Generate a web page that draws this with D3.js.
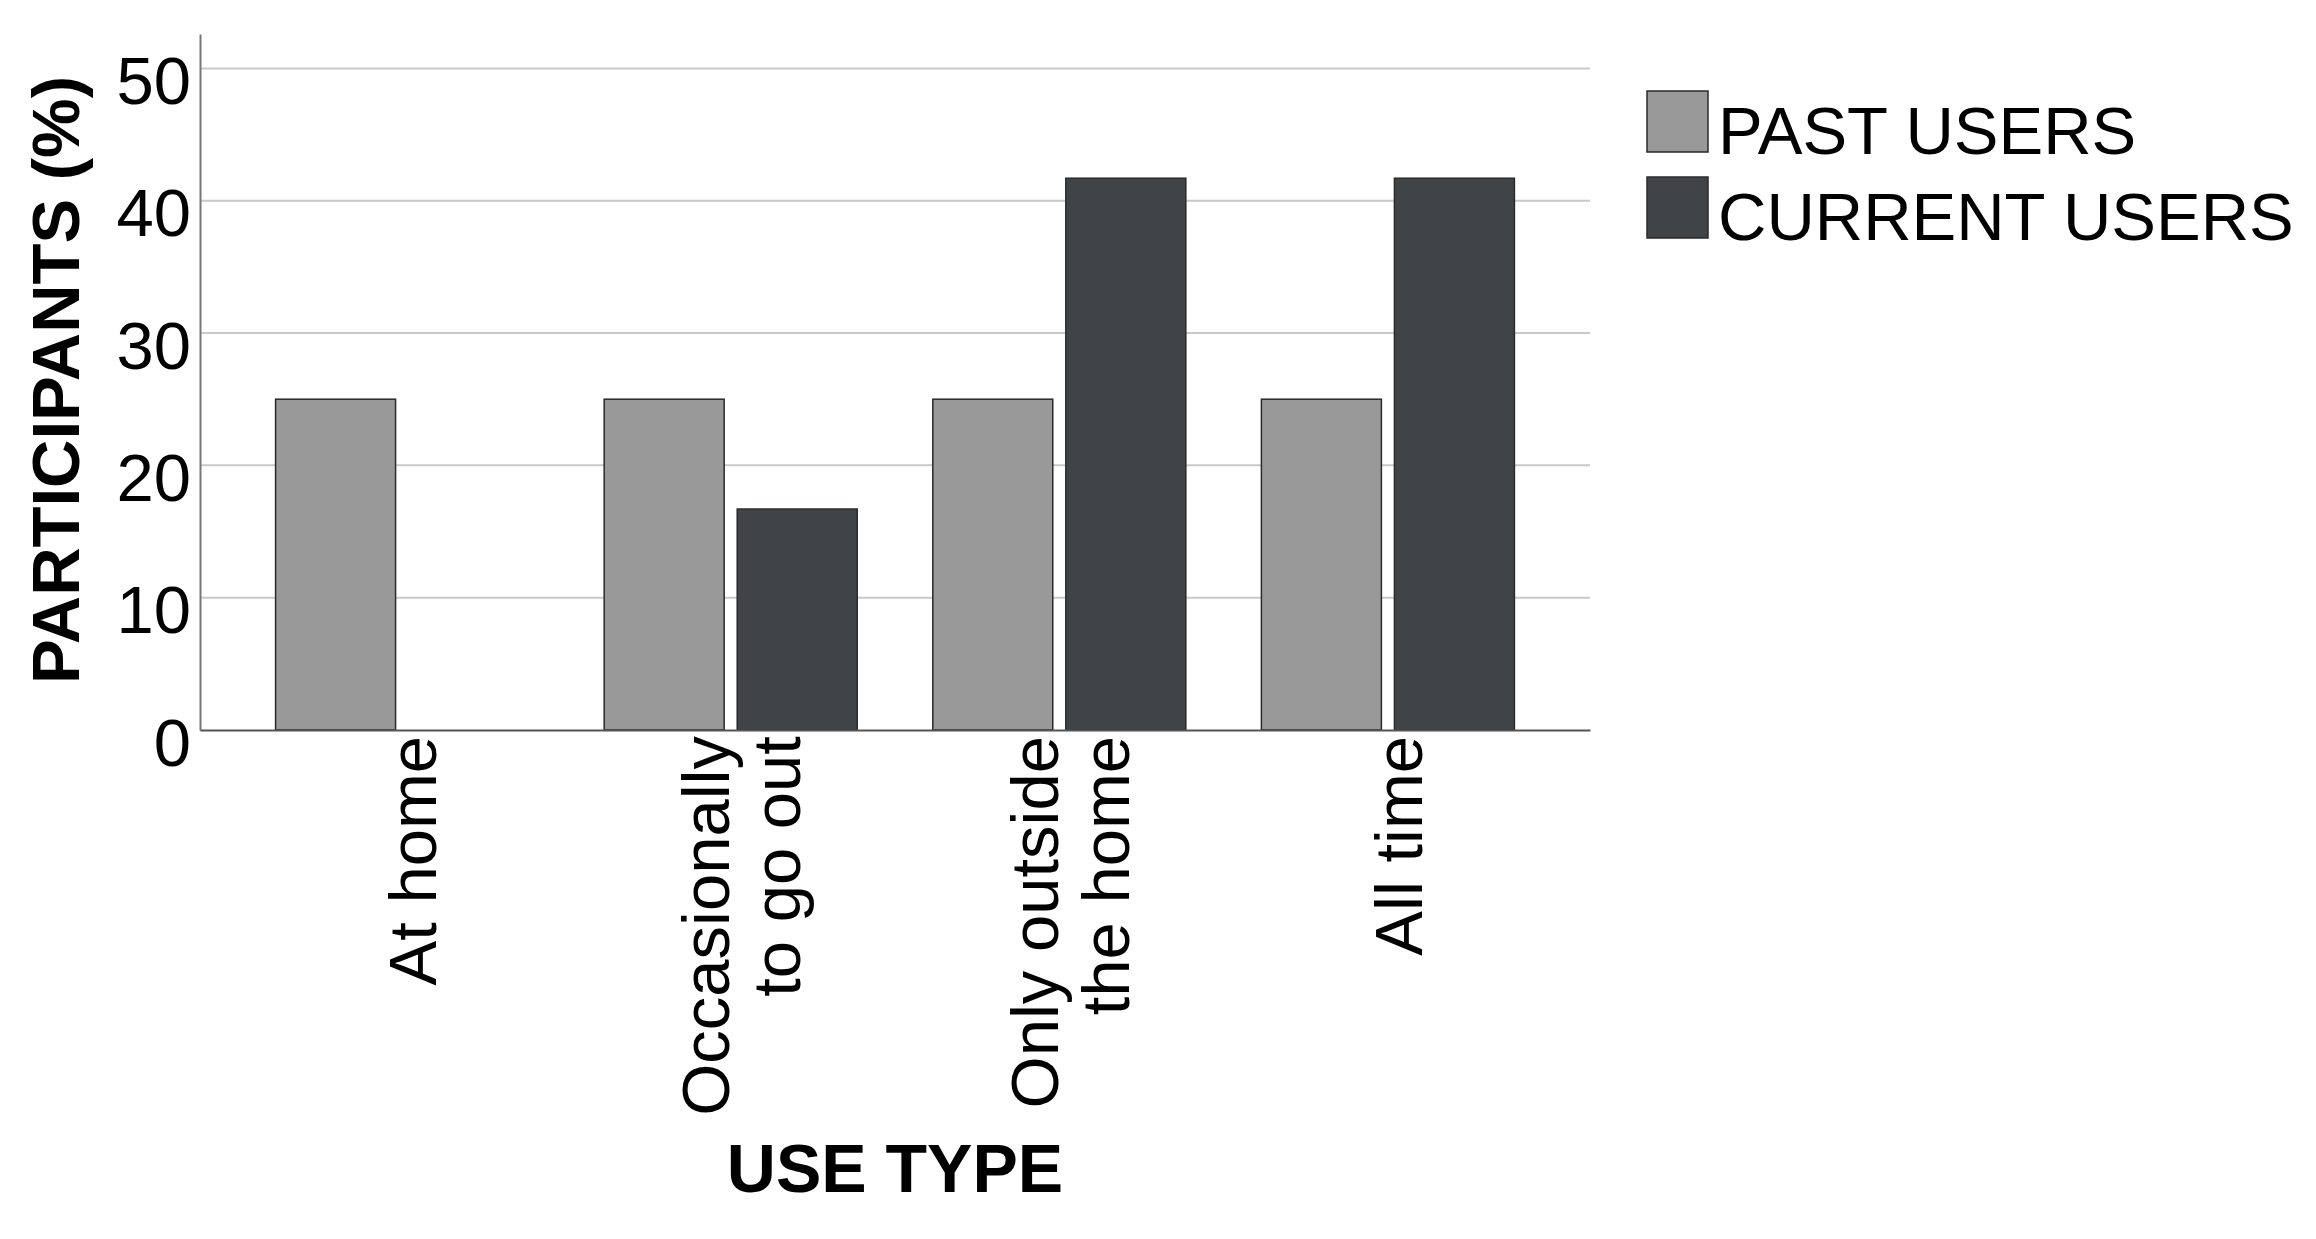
<!DOCTYPE html>
<html>
<head>
<meta charset="utf-8">
<script src="https://cdn.jsdelivr.net/npm/d3@7"></script>
<style>
  html, body { margin: 0; padding: 0; background: #fff; }
  svg { display: block; font-family: "Liberation Sans", Arial, sans-serif; }
</style>
</head>
<body>
<div id="chart"></div>
<script>
// data
const categories = ["At home", "Occasionally\nto go out", "Only outside\nthe home", "All time"];
const seriesNames = ["PAST USERS", "CURRENT USERS"];
const pastUsers = [25, 25, 25, 25];
const currentUsers = [0, 16.7, 41.7, 41.7];
const yTicks = [0, 10, 20, 30, 40, 50];
const yMax = 52.6;

const colors = ["#999999", "#414446"];

const width = 2316, height = 1239;
const plot = { left: 200, right: 1590, top: 34, bottom: 730 };

const svg = d3.select("#chart").append("svg")
  .attr("width", width)
  .attr("height", height);

const rows = categories.map((c, i) => ({ cat: c, values: [pastUsers[i], currentUsers[i]] }));

const xScale = d3.scaleBand().domain(categories)
  .range([plot.left, plot.right]).paddingInner(0.23).paddingOuter(0.23);
const subScale = d3.scaleBand().domain(seriesNames)
  .range([0, xScale.bandwidth()]).paddingInner(0.098);
const yScale = d3.scaleLinear().domain([0, yMax]).range([plot.bottom, plot.top]);

// gridlines
svg.append("g")
  .selectAll("line")
  .data(yTicks.filter(d => d > 0))
  .enter()
  .append("line")
    .attr("x1", plot.left)
    .attr("x2", plot.right)
    .attr("y1", d => yScale(d))
    .attr("y2", d => yScale(d))
    .attr("stroke", "#c9c9c9")
    .attr("stroke-width", 2);

// bars
const groups = svg.append("g")
  .selectAll("g")
  .data(rows)
  .enter()
  .append("g")
    .attr("transform", d => `translate(${xScale(d.cat)},0)`);

groups.selectAll("rect")
  .data(d => d.values.map((v, j) => ({ key: seriesNames[j], value: v, j: j })))
  .enter()
  .append("rect")
    .attr("x", d => subScale(d.key))
    .attr("width", subScale.bandwidth())
    .attr("y", d => yScale(d.value) - (d.value === 0 ? 1 : 0))
    .attr("height", d => Math.max(0, yScale(0) - yScale(d.value)))
    .attr("fill", d => colors[d.j])
    .attr("stroke", "#2a2a2a")
    .attr("stroke-width", 1.5);

// y axis
const yAxis = d3.axisLeft(yScale).tickValues(yTicks).tickSize(0).tickPadding(9);
const yG = svg.append("g")
  .attr("transform", `translate(${plot.left},0)`)
  .call(yAxis);
yG.select(".domain").attr("stroke", "#777").attr("stroke-width", 2);
yG.selectAll("text")
  .attr("font-size", 67)
  .attr("font-family", "Liberation Sans, Arial, sans-serif")
  .attr("fill", "#000")
  .attr("dy", 35);

// x axis
const xAxis = d3.axisBottom(xScale).tickSize(0).tickFormat("");
const xG = svg.append("g")
  .attr("transform", `translate(0,${plot.bottom})`)
  .call(xAxis);
xG.select(".domain").attr("stroke", "#555").attr("stroke-width", 2);

xG.selectAll(".tick")
  .append("text")
    .attr("transform", "translate(0,6) rotate(-90)")
    .attr("text-anchor", "end")
    .attr("font-size", 67)
    .attr("font-family", "Liberation Sans, Arial, sans-serif")
    .attr("fill", "#000")
    .each(function(d) {
      const lines = d.split("\n");
      const n = lines.length;
      d3.select(this).selectAll("tspan")
        .data(lines)
        .enter()
        .append("tspan")
          .attr("x", 0)
          .attr("y", (l, k) => 34 - (n - 1) * 35.5 + k * 71)
          .text(l => l);
    });

// axis titles
svg.append("text")
  .attr("transform", "translate(79,380) rotate(-90)")
  .attr("text-anchor", "middle")
  .attr("font-size", 67)
  .attr("font-weight", "bold")
  .text("PARTICIPANTS (%)");

svg.append("text")
  .attr("x", (plot.left + plot.right) / 2)
  .attr("y", 1192)
  .attr("text-anchor", "middle")
  .attr("font-size", 68)
  .attr("font-weight", "bold")
  .text("USE TYPE");

// legend
const legend = svg.append("g").attr("transform", "translate(1647,91)");
const items = legend.selectAll("g")
  .data(seriesNames)
  .enter()
  .append("g")
    .attr("transform", (d, i) => `translate(0,${i * 86})`);
items.append("rect")
  .attr("width", 61)
  .attr("height", 61)
  .attr("fill", (d, i) => colors[i])
  .attr("stroke", "#2a2a2a")
  .attr("stroke-width", 1.5);
items.append("text")
  .attr("x", 71)
  .attr("y", 63)
  .attr("font-size", 67)
  .text(d => d);
</script>
</body>
</html>
